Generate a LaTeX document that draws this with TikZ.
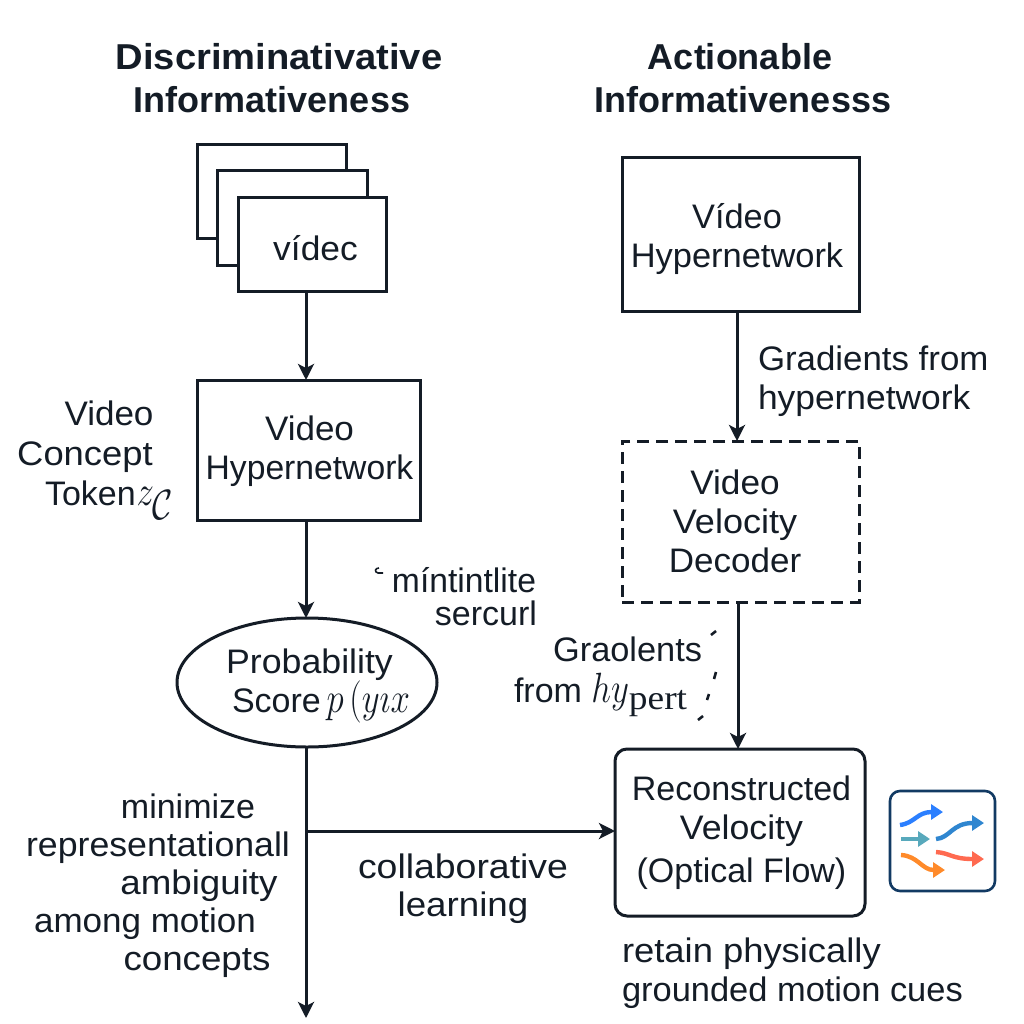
\documentclass[tikz,border=0pt]{standalone}
\usepackage{fontspec}
\setmainfont{Liberation Sans}
\newfontfamily\serifpart{Liberation Serif}
\usetikzlibrary{arrows.meta,shapes.geometric}
\definecolor{ink}{HTML}{141C26}
\definecolor{navy}{HTML}{123A63}
\definecolor{iconblue}{HTML}{2B7FFF}
\definecolor{iconteal}{HTML}{58A9BC}
\definecolor{iconsky}{HTML}{2F86D0}
\definecolor{iconorange}{HTML}{FF8A2A}
\definecolor{iconred}{HTML}{FF6A50}
\newcommand{\sx}[2]{\scalebox{#1}[1]{#2}}
\newcommand{\mymath}[1]{\scalebox{1.4}[1.7]{$#1$}}
\tikzset{
  x=1pt,y=-1pt,
  every node/.style={text=ink,font=\fontsize{34}{39}\selectfont,inner sep=0pt,outer sep=0pt},
  box/.style={draw=ink,line width=3pt,fill=white},
  blocktext/.style={align=center},
  titletext/.style={font=\fontsize{36}{43}\selectfont\bfseries,align=center},
  lab/.style={anchor=base},
  labl/.style={anchor=base west},
  labr/.style={anchor=base east},
  flow/.style={draw=ink,line width=3pt,-{Stealth[length=16pt,width=16pt,inset=4pt]}},
  tick/.style={draw=ink,line width=2.6pt},
  iconarrow/.style={line width=4.4pt,-{Triangle[length=12pt,width=15pt]}},
}
\begin{document}
\begin{tikzpicture}
\useasboundingbox (0,0) rectangle (1024,1024);
\fill[white] (0,0) rectangle (1024,1024);
% titles
\node[titletext,lab] (t1a) at (279,70) {\sx{1.06}{Discriminativative}};
\node[titletext,lab] (t1b) at (272,113) {Informativeness};
\node[titletext,lab] (t2a) at (740,70) {Actionable};
\node[titletext,lab] (t2b) at (743,113) {Informativenesss};
% stacked frames
\node[box,minimum width=149pt,minimum height=93pt] (f1) at (271.5,191.5) {};
\node[box,minimum width=150pt,minimum height=94pt] (f2) at (292,218) {};
\node[box,minimum width=148pt,minimum height=93pt] (f3) at (312,244.5) {};
\node[blocktext] (f3t) at (315.5,248) {\sx{1.04}{vídec}};
% left column
\node[box,minimum width=223pt,minimum height=140pt] (hl) at (308.5,450) {};
\node[blocktext] (hlt) at (309.5,451.5) {\sx{1.03}{Video}\\\sx{.99}{Hypernetwork}};
\node[box,ellipse,minimum width=260pt,minimum height=129pt] (score) at (307,682.5) {};
\node[blocktext] (scoret) at (309.5,686) {\sx{1.05}{Probability}\\\hspace*{23pt}Score\,\mymath{p\,(y\imath x}};
\coordinate (branch) at (306,831);
\coordinate (leftend) at (306,1018);
% right column
\node[box,minimum width=237pt,minimum height=153pt] (hr) at (740.5,234.5) {};
\node[blocktext] (hrt) at (737,239) {\sx{1.01}{Vídeo}\\\sx{1.013}{Hypernetwork}};
\node[box,dashed,dash pattern=on 12pt off 7pt,minimum width=237pt,minimum height=161pt] (dec) at (740.5,521.5) {};
\node[blocktext] (dect) at (735,521.5) {\sx{1.035}{Video}\\\sx{1.06}{Velocity}\\\sx{1.03}{Decoder}};
\node[box,rounded corners=12pt,minimum width=250pt,minimum height=167pt] (rec) at (740,832.5) {};
\node[blocktext] (rect) at (741.5,832.5) {Reconstructed\\\sx{1.05}{Velocity}\\[4pt](Optical Flow)};
% connectors
\draw[flow] (f3.south -| 306,0) -- (hl.north -| 306,0);
\draw[flow] (hl.south -| 306,0) -- (score.north -| 306,0);
\draw[flow] (score.south -| 306,0) -- (leftend);
\draw[flow] (branch) -- (rec.west |- branch);
\draw[flow] (hr.south -| 737,0) -- (dec.north -| 737,0);
\draw[flow] (dec.south -| 738,0) -- (rec.north -| 738,0);
% labels
\node[lab] (l1) at (109,425) {\sx{1.03}{Video}};
\node[lab] (l2) at (85,465) {\sx{1.07}{Concept}};
\node[labl] (l3) at (45,505) {Token\hspace{1pt}\mymath{z_{\mathcal{C}}}};
\node[labl] (l4) at (758,370) {\sx{1.025}{Gradients from}};
\node[labl] (l5) at (758,409) {\sx{1.04}{hypernetwork}};
\node[labr] (l6) at (536,592) {\sx{.99}{míntintlite}};
\node[labr] (l7) at (537,625) {sercurl};
\node[labr] (l8) at (702,661) {\sx{1.01}{Graolents}};
\node[labl] (l9) at (514,702) {from \mymath{hy}\raisebox{-7pt}{\serifpart\fontsize{34}{34}\selectfont\sx{1.1}{pert}}};
\node[lab] (l10) at (188,818) {minimize};
\node[lab] (l11) at (158,856) {\sx{1.05}{representationall}};
\node[lab] (l12) at (199,894) {\sx{1.08}{ambiguity}};
\node[lab] (l13) at (145,932) {\sx{1.03}{among motion}};
\node[lab] (l14) at (197,970) {\sx{1.08}{concepts}};
\node[lab] (l15) at (463,878) {\sx{1.10}{collaborative}};
\node[lab] (l16) at (463,916) {\sx{1.08}{learning}};
\node[labl] (l17) at (622,962) {\sx{1.07}{retain physically}};
\node[labl] (l18) at (622,1001) {\sx{1.013}{grounded motion cues}};
% stray marks
\draw[tick] (711,635) -- (716,631);
\draw[tick] (714,679) -- (716,672);
\draw[tick] (707,700) -- (709,694);
\draw[tick] (698,720) -- (703,716);
\draw[ink,line width=1.6pt] (383,573) -- (378,573) .. controls (374,572) and (375,568) .. (379,568);
% flow icon
\node[draw=navy,line width=2.6pt,rounded corners=10pt,fill=white,minimum width=105pt,minimum height=100pt] (icon) at (942.5,841) {};
\draw[iconarrow,color=iconblue] (900,825) .. controls (915,823) and (917,812) .. (943,812);
\draw[iconarrow,color=iconteal] (901,839) -- (930,839);
\draw[iconarrow,color=iconsky] (936,839) .. controls (950,838) and (952,823) .. (984,823);
\draw[iconarrow,color=iconorange] (901,855) .. controls (918,856) and (922,870) .. (945,870);
\draw[iconarrow,color=iconred] (936,852) .. controls (950,853) and (952,859) .. (984,859);
\end{tikzpicture}
\end{document}
